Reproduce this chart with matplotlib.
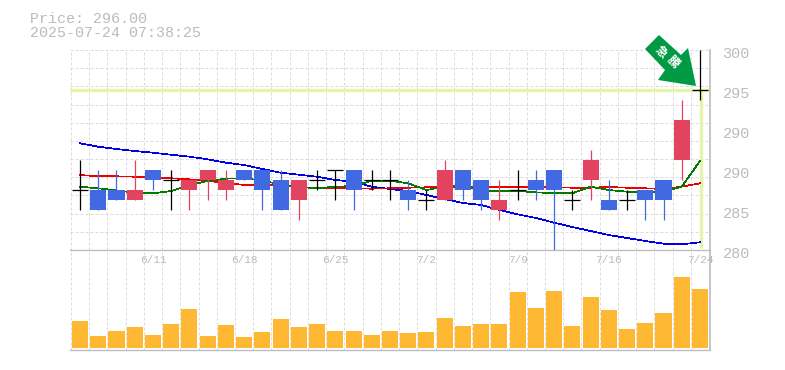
import matplotlib
matplotlib.use('Agg')
import matplotlib.pyplot as plt
from matplotlib.patches import Polygon
from matplotlib.transforms import ScaledTranslation

W, H = 785, 370

# ローソク足 (始値, 高値, 安値, 終値)
opens = [286, 286, 286, 285, 288, 287, 286, 287, 286, 288, 288, 287, 285, 287, 288, 288, 287, 287,
         286, 285, 285, 288, 287, 284, 286, 287, 288, 285, 287, 285, 285, 286, 287, 289, 296]
highs = [289, 288, 288, 289, 288, 288, 287, 288, 288, 288, 288, 288, 287, 288, 288, 288, 288, 288,
         287, 286, 289, 288, 287, 287, 288, 288, 288, 286, 290, 287, 286, 286, 287, 295, 300]
lows = [284, 284, 285, 285, 286, 284, 284, 285, 285, 287, 284, 284, 283, 286, 285, 284, 286, 285,
        284, 284, 285, 285, 284, 283, 285, 285, 280, 284, 285, 284, 284, 283, 283, 287, 295]
closes = [286, 284, 285, 286, 287, 287, 287, 288, 287, 287, 286, 284, 287, 287, 288, 286, 287, 287,
          285, 285, 288, 286, 285, 285, 286, 286, 286, 285, 289, 284, 285, 285, 285, 293, 296]

# 移動平均線
ma_green = [286.33, 286.17, 285.97, 285.73, 285.67, 285.9, 286.5, 286.9, 287.13, 287.17, 286.93, 286.57,
            286.33, 286.17, 286.33, 286.4, 286.93, 286.93, 286.67, 286.0, 286.33, 286.5, 285.9, 285.87,
            285.9, 285.77, 285.67, 285.67, 286.33, 286.0, 285.83, 285.73, 285.83, 286.33, 288.9]
ma_red = [287.5, 287.37, 287.37, 287.33, 287.27, 287.17, 287.07, 286.9, 286.73, 286.5, 286.5, 286.47,
          286.3, 286.17, 286.17, 286.17, 286.13, 286.17, 286.23, 286.27, 286.27, 286.27, 286.27, 286.27,
          286.27, 286.27, 286.27, 286.23, 286.23, 286.3, 286.23, 286.17, 286.1, 286.33, 286.67]
ma_blue = [290.67, 290.33, 290.1, 289.9, 289.73, 289.53, 289.33, 289.07, 288.73, 288.5, 288.1, 287.73,
           287.53, 287.33, 287.0, 286.83, 286.33, 286.1, 285.9, 285.5, 285.1, 284.7, 284.5, 284.0,
           283.57, 283.2, 282.73, 282.3, 281.9, 281.5, 281.2, 280.9, 280.63, 280.57, 280.77]

# 出来高
volumes = [27, 12, 17, 21, 13, 24, 39, 12, 23, 11, 16, 29, 21, 24, 17, 17, 13, 17,
           15, 16, 30, 22, 24, 24, 56, 40, 57, 22, 51, 38, 19, 25, 35, 71, 59]

price_ticks = [300, 296, 292, 288, 284, 280]
price_labels = ['300', '295', '290', '290', '285', '280']
date_pos = [4, 9, 14, 19, 24, 29, 34]
date_labels = ['6/11', '6/18', '6/25', '7/2', '7/9', '7/16', '7/24']
last_price = 296

RED = '#e2435f'
BLUE = '#4169e1'
GRID = '#dcdcdc'
AXIS = '#bebebe'
TEXT = '#bbbbbb'
MONO = 'Liberation Mono'

plt.rcParams['font.family'] = [MONO, 'DejaVu Sans Mono']

fig = plt.figure(figsize=(W / 100, H / 100), dpi=100)


def rect(x0, y0, x1, y1):
    return [x0 / W, 1 - y1 / H, (x1 - x0) / W, (y1 - y0) / H]


def px(x, y):
    return (x / W, 1 - y / H)


ax = fig.add_axes(rect(70, 50, 710, 250))
axv = fig.add_axes(rect(70, 250, 710, 350), sharex=ax)

n = len(closes)
xs = list(range(n))
ax.set_xlim(-0.55, n - 1 + 0.55)
ax.set_ylim(280, 300)
axv.set_ylim(-2, 98)

# グリッド
grid_x = [i - 0.5 for i in range(n + 1)]
for a in (ax, axv):
    for gx in grid_x:
        a.axvline(gx, color=GRID, lw=0.72, ls=(0, (3, 2)), zorder=0)
for k in range(12):
    ax.axhline(280 + k * 20 / 11, color=GRID, lw=0.72, ls=(0, (3, 2)), zorder=0)

for a in (ax, axv):
    for s in a.spines.values():
        s.set_visible(False)
    a.spines['right'].set_visible(True)
    a.spines['bottom'].set_visible(True)
    a.spines['right'].set_color(AXIS)
    a.spines['bottom'].set_color(AXIS)
    a.spines['right'].set_linewidth(1.2)
    a.spines['bottom'].set_linewidth(1.0)
    a.patch.set_alpha(0)

# 現在値ライン
ax.axhline(last_price, color='#e2f5a8', lw=2.4, zorder=1)
ax.plot([n - 1 + 0.08, n - 1 + 0.08], [280.2, last_price], color='#e2f5a8', lw=2.4, zorder=1,
        solid_capstyle='butt')

# 移動平均線はローソク足の下
ax.plot(xs, ma_blue, color='#0000e6', lw=0.5, zorder=2, antialiased=False)
ax.plot(xs, ma_red, color='#ee0000', lw=0.5, zorder=2, antialiased=False)
ax.plot(xs, ma_green, color='#007a00', lw=0.5, zorder=2, antialiased=False)

# ローソク足
for i in xs:
    o, h, l, c = opens[i], highs[i], lows[i], closes[i]
    if c > o:
        col = RED
    elif c < o:
        col = BLUE
    else:
        col = 'black'
    ax.vlines(i, l, h, color=col, lw=0.9, zorder=3)
    if col == 'black':
        ax.hlines(o, i - 0.44, i + 0.44, color='black', lw=0.9, zorder=3)
    else:
        ax.bar(i, abs(c - o), bottom=min(o, c), width=0.88, color=col, lw=0, zorder=3)

axv.bar(xs, volumes, width=0.88, color='#ffb833', lw=0, zorder=2)

# 目盛り
ax.yaxis.tick_right()
ax.set_yticks(price_ticks)
ax.set_yticklabels(price_labels, fontsize=11, color=TEXT)
ax.tick_params(axis='y', length=0, pad=9)
shift = ScaledTranslation(0, -3 / 100, fig.dpi_scale_trans)
for lab in ax.get_yticklabels():
    lab.set_transform(lab.get_transform() + shift)
ax.tick_params(axis='x', length=0, labelbottom=False)

axv.set_yticks([])
axv.set_xticks(date_pos)
axv.set_xticklabels(date_labels, fontsize=8, color=TEXT)
axv.tick_params(axis='x', length=0, labelbottom=False, labeltop=True, pad=-11)

# ヘッダー
fig.text(30 / W, 1 - 23 / H, f'Price: {last_price:.2f}', fontsize=10.8, color=TEXT, va='baseline')
fig.text(30 / W, 1 - 37 / H, '2025-07-24 07:38:25', fontsize=10.8, color=TEXT, va='baseline')

# 急騰マーク
arrow = [(659, 35), (645, 49), (665, 70), (658, 80), (696, 86), (688, 48), (681, 55)]
fig.add_artist(Polygon([px(*p) for p in arrow], closed=True, transform=fig.transFigure,
                       fc='#009a44', ec='none', zorder=6))
fig.text(*px(661, 52), '急', rotation=-45, fontsize=8.5, color='white', ha='center', va='center',
         family=['Noto Sans CJK JP'], fontweight='bold', zorder=7)
fig.text(*px(673, 62), '騰', rotation=-45, fontsize=8.5, color='white', ha='center', va='center',
         family=['Noto Sans CJK JP'], fontweight='bold', zorder=7)

fig.savefig('out.png', dpi=100)
